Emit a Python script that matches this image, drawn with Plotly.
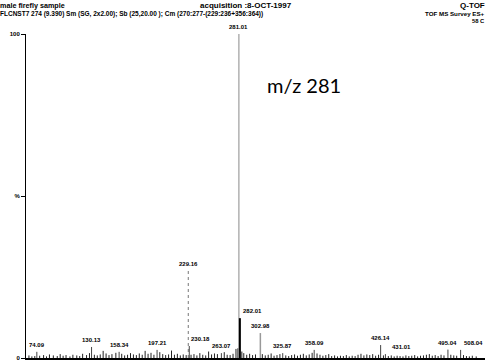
import plotly.graph_objects as go

# ---- data ----
labeled_mz = [74.09, 130.13, 158.34, 197.21, 229.16, 230.18, 263.07, 281.01,
              282.01, 302.98, 325.87, 358.09, 426.14, 431.01, 495.04, 508.04]
labeled_int = [1.9, 3.4, 1.9, 2.5, 27.0, 3.7, 1.5, 100.0,
               12.3, 7.7, 1.5, 2.5, 4.0, 1.2, 2.6, 2.5]
label_text = ["74.09", "130.13", "158.34", "197.21", "229.16", "230.18", "263.07", "281.01",
              "282.01", "302.98", "325.87", "358.09", "426.14", "431.01", "495.04", "508.04"]

noise_mz = [66, 69, 72, 77, 81, 84, 87, 91, 95, 98, 101, 104, 108, 111, 115, 118, 121, 125,
            128, 133, 136, 139, 142, 145, 148, 151, 155, 161, 164, 167, 170, 173, 176, 179,
            182, 185, 188, 191, 194, 200, 203, 206, 209, 212, 215, 218, 221, 224, 227, 232,
            235, 238, 241, 244, 247, 250, 253, 256, 259, 266, 269, 272, 275, 278, 280, 284,
            286, 289, 292, 295, 298, 305, 308, 311, 314, 317, 320, 323, 329, 332, 335, 338,
            341, 344, 347, 350, 353, 356, 361, 364, 367, 370, 373, 376, 379, 382, 385, 388,
            391, 394, 397, 400, 403, 406, 409, 412, 415, 418, 421, 424, 429, 434, 437, 440,
            443, 446, 449, 452, 455, 458, 461, 464, 467, 470, 473, 476, 479, 482, 485, 488,
            491, 498, 501, 504, 511, 514, 517, 520, 524]
noise_int = [0.8, 0.5, 0.6, 0.7, 0.9, 0.5, 1.1, 0.8, 0.6, 1.2, 0.7, 0.9, 0.5, 1.0, 0.8, 0.6, 1.3, 0.9,
             1.5, 1.0, 0.8, 1.1, 2.2, 1.4, 0.9, 1.2, 1.6, 1.3, 0.8, 1.0, 1.5, 1.1, 0.9, 1.4,
             1.0, 2.2, 1.3, 1.6, 1.0, 1.8, 1.2, 0.9, 1.1, 2.3, 1.0, 1.3, 0.8, 1.1, 0.9, 1.0,
             1.2, 0.8, 1.5, 1.0, 0.8, 2.0, 1.1, 1.4, 1.2, 1.8, 1.0, 0.9, 1.3, 2.8, 3.0, 2.0,
             1.5, 1.0, 1.3, 0.9, 1.1, 1.2, 0.8, 1.0, 1.4, 0.7, 0.9, 1.2, 0.8, 0.6, 0.9, 1.1,
             0.7, 1.0, 1.3, 0.8, 1.1, 1.6, 1.4, 1.0, 0.7, 0.9, 1.2, 0.6, 0.8, 0.5, 0.7, 0.6,
             0.9, 0.5, 0.7, 0.6, 1.0, 1.3, 0.8, 1.1, 0.9, 1.2, 0.7, 1.0, 0.8, 0.6, 0.8, 0.5,
             0.7, 0.6, 0.5, 0.8, 0.6, 0.7, 0.9, 0.5, 0.7, 0.8, 1.0, 1.2, 0.7, 0.9, 0.6, 1.0,
             0.8, 1.0, 0.8, 0.7, 0.9, 0.6, 0.5, 0.7, 0.5]

y_tick_vals = [0, 50, 100]
y_tick_text = ["<b>0</b>", "<b>%</b>", "<b>100</b>"]

# ---- layout geometry (pixels) ----
W, H = 485, 362
L, R, T, B = 26, 0, 34, 4
PW, PH = W - L - R, H - T - B


def paper(px, py):
    return (px - L) / PW, (H - B - py) / PH


def stems(mz, inten):
    xs, ys = [], []
    for m, v in zip(mz, inten):
        xs += [m, m, None]
        ys += [0, v, None]
    return xs, ys


fig = go.Figure()

nx, ny = stems(noise_mz, noise_int)
fig.add_trace(go.Scatter(x=nx, y=ny, mode="lines", line=dict(color="#222", width=1),
                         hoverinfo="skip", showlegend=False))

for m, v in zip(labeled_mz, labeled_int):
    if m == 229.16:
        col, dash, w = "#777", "dot", 1
    elif m == 281.01:
        col, dash, w = "#8a8a8a", "solid", 1
    elif m == 302.98:
        col, dash, w = "#999", "solid", 1.5
    elif m == 282.01:
        col, dash, w = "#000", "solid", 2
    else:
        col, dash, w = "#444", "solid", 1
    fig.add_trace(go.Scatter(x=[m, m], y=[0, v], mode="lines",
                             line=dict(color=col, width=w, dash=dash),
                             hoverinfo="skip", showlegend=False))

# label offsets (style only)
label_style = {
    "230.18": dict(xanchor="left", xshift=0),
    "282.01": dict(xanchor="left", xshift=1),
    "508.04": dict(xanchor="left", xshift=1),
    "431.01": dict(xanchor="center", xshift=16),
}
annotations = []
for m, v, t in zip(labeled_mz, labeled_int, label_text):
    st = label_style.get(t, dict(xanchor="center", xshift=0))
    annotations.append(dict(x=m, y=v, xref="x", yref="y", text=f"<b>{t}</b>", showarrow=False,
                            yanchor="bottom", yshift=2, xanchor=st["xanchor"], xshift=st["xshift"],
                            font=dict(family="Liberation Sans", size=6, color="#000")))


def head(text, px, py, size, bold=False, anchor="left", family="Liberation Sans"):
    x, y = paper(px, py)
    annotations.append(dict(x=x, y=y, xref="paper", yref="paper",
                            text=f"<b>{text}</b>" if bold else text, showarrow=False,
                            xanchor=anchor, yanchor="middle", borderpad=0,
                            font=dict(family=family, size=size, color="#000")))


head("male firefly sample", -1, 5.5, 7.2, bold=True)
head("acquisition :8-OCT-1997", 199, 5.5, 8.0, bold=True)
head("Q-TOF", 486, 5.5, 8, bold=True, anchor="right")
head("FLCNST7 274 (9.390) Sm (SG, 2x2.00); Sb (25,20.00 ); Cm (270:277-(229:236+356:364))",
     -1, 14, 6.5, bold=True)
head("TOF MS Survey ES+", 486, 14, 6.2, bold=True, anchor="right")
head("58 C", 486, 21.5, 5.8, bold=True, anchor="right")
head("m/z 281", 266, 85, 20, family="Lato")

fig.update_layout(
    width=W, height=H,
    margin=dict(l=L, r=R, t=T, b=B, pad=0),
    paper_bgcolor="white", plot_bgcolor="white",
    annotations=annotations,
    xaxis=dict(range=[63, 533], showgrid=False, zeroline=False, showticklabels=False,
               ticks="", showline=True, linecolor="#000", linewidth=2),
    yaxis=dict(range=[0, 100], showgrid=False, zeroline=False, showline=True,
               linecolor="#000", linewidth=1, ticks="outside", ticklen=4, tickcolor="#000",
               tickvals=y_tick_vals, ticktext=y_tick_text,
               tickfont=dict(family="Liberation Sans", size=6, color="#000")),
)

fig.write_html("out.html", config={"displayModeBar": False},
               post_script="document.body.style.margin='0';document.body.style.overflow='hidden';")
